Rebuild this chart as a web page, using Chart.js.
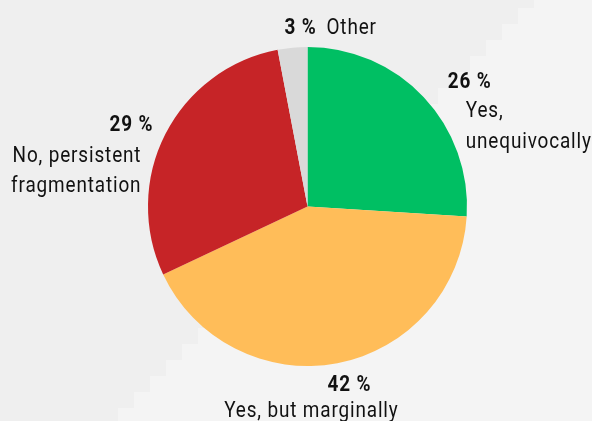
<!DOCTYPE html>
<html>
<head>
<meta charset="utf-8">
<script src="https://cdn.jsdelivr.net/npm/chart.js@4/dist/chart.umd.min.js"></script>
<style>
  html, body { margin: 0; padding: 0; background: #f4f4f4; }
  #wrap { width: 592px; height: 421px; position: relative; }
</style>
</head>
<body>
<div id="wrap"><canvas id="c" width="592" height="421"></canvas></div>
<script>
const categories = ["Yes, unequivocally", "Yes, but marginally", "No, persistent fragmentation", "Other"];
const labelLines = [["Yes,", "unequivocally"], ["Yes, but marginally"], ["No, persistent", "fragmentation"], ["Other"]];
const values = [26, 42, 29, 3];
const colors = ["#00bf63", "#ffbd59", "#c62427", "#d9d9d9"];

// label layout relative to the outer midpoint of each slice
const labelLayout = [
  { pct: { dx: 24, dy: -9, align: "left" }, name: { dx: 42, dy: 20, align: "left" }, lh: 31 },
  { pct: { dx: 12, dy: 28, align: "center" }, name: { dx: -26, dy: 54, align: "center" }, lh: 27 },
  { pct: { dx: -12, dy: -3, align: "right" }, name: { dx: -24, dy: 28, align: "right" }, lh: 30 },
  { pct: { dx: -8, dy: -14, align: "left" }, name: { dx: 34, dy: -14, align: "left" }, lh: 30 }
];

const bgPlugin = {
  id: "bg",
  beforeDraw(chart) {
    const ctx = chart.ctx;
    ctx.save();
    ctx.fillStyle = "#f4f4f4";
    ctx.fillRect(0, 0, chart.width, chart.height);
    ctx.fillStyle = "#efefef";
    for (let k = 0; k < 30; k++) {
      const y0 = 16 * k - 8, xb = 534 - 16 * k;
      if (xb <= 0) break;
      ctx.fillRect(0, Math.max(0, y0), xb, 16 + Math.min(0, y0));
    }
    ctx.restore();
  }
};

function drawText(ctx, text, x, y, align, font, sx) {
  ctx.save();
  ctx.translate(x, y);
  ctx.scale(sx, 1);
  ctx.font = font;
  ctx.letterSpacing = "1px";
  ctx.textAlign = align;
  ctx.fillText(text, 0, 0);
  ctx.restore();
}

const labelPlugin = {
  id: "labels",
  afterDraw(chart) {
    const ctx = chart.ctx;
    const meta = chart.getDatasetMeta(0);
    ctx.save();
    ctx.fillStyle = "#111";
    ctx.textBaseline = "alphabetic";
    meta.data.forEach((arc, i) => {
      const p = arc.getProps(["x", "y", "startAngle", "endAngle", "outerRadius"], true);
      const mid = (p.startAngle + p.endAngle) / 2;
      const ox = p.x + Math.cos(mid) * p.outerRadius;
      const oy = p.y + Math.sin(mid) * p.outerRadius;
      const L = labelLayout[i];
      drawText(ctx, values[i] + " %", ox + L.pct.dx, oy + L.pct.dy, L.pct.align, "bold 22px Roboto", 0.86);
      labelLines[i].forEach((t, j) => {
        drawText(ctx, t, ox + L.name.dx, oy + L.name.dy + j * L.lh, L.name.align, "22px Roboto", 0.86);
      });
    });
    ctx.restore();
  }
};

new Chart(document.getElementById("c"), {
  type: "pie",
  data: {
    labels: categories,
    datasets: [{ data: values, backgroundColor: colors, borderWidth: 0 }]
  },
  options: {
    responsive: false,
    animation: false,
    layout: { padding: { top: 47, bottom: 55, left: 148, right: 125 } },
    plugins: { legend: { display: false }, tooltip: { enabled: false } }
  },
  plugins: [bgPlugin, labelPlugin]
});
</script>
</body>
</html>
